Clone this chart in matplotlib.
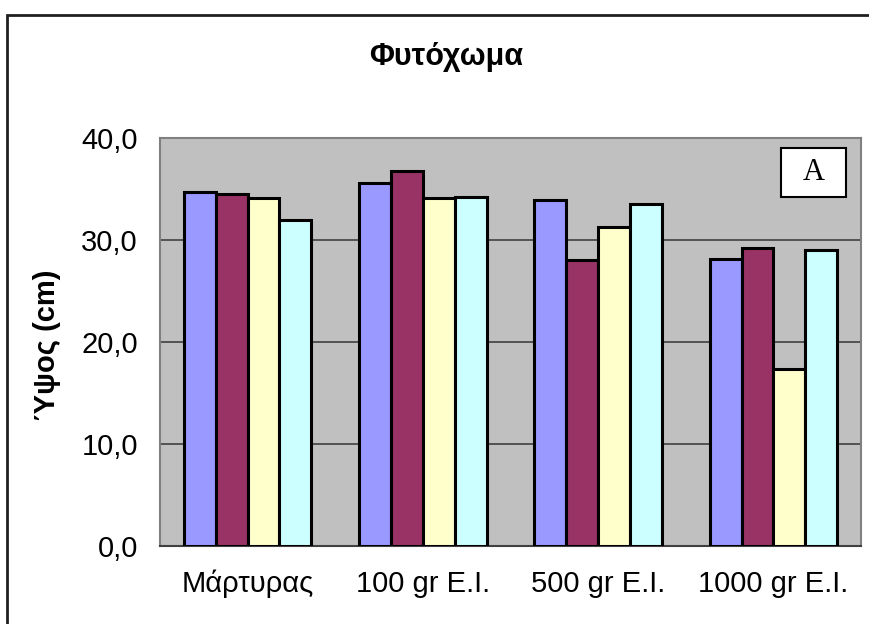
import matplotlib.pyplot as plt
import numpy as np
from matplotlib.patches import Rectangle

plt.rcParams['font.family'] = ['Liberation Sans', 'DejaVu Sans']

groups = ['Μάρτυρας', '100 gr E.I.', '500 gr E.I.', '1000 gr E.I.']
series_1 = [34.7, 35.6, 33.9, 28.1]
series_2 = [34.5, 36.8, 28.0, 29.2]
series_3 = [34.1, 34.1, 31.3, 17.4]
series_4 = [32.0, 34.2, 33.5, 29.0]
yticks = [0, 10, 20, 30, 40]
ytick_labels = ['0,0', '10,0', '20,0', '30,0', '40,0']

colors = ['#9999FF', '#993366', '#FFFFCC', '#CCFFFF']

fig = plt.figure(figsize=(8.7, 6.24), dpi=100)
W, H = 870, 624

# outer chart frame
fig.patches.append(Rectangle((7 / W, -0.1), 1.2, 1 - 15 / H + 0.1, transform=fig.transFigure,
                             fill=False, edgecolor='#202020', linewidth=2.0))

ax = fig.add_axes([160 / W, 1 - 546 / H, (861 - 160) / W, (546 - 138) / H])
ax.set_facecolor('#C0C0C0')

x = np.arange(len(groups))
width = 1 / 5.5
for i, vals in enumerate([series_1, series_2, series_3, series_4]):
    ax.bar(x + (i - 1.5) * width, vals, width, color=colors[i],
           edgecolor='black', linewidth=2.2, zorder=3)

ax.set_xlim(-0.5, len(groups) - 0.5)
ax.set_ylim(0, 40)
ax.set_yticks(yticks)
ax.set_yticklabels(ytick_labels)
ax.set_xticks(x)
ax.set_xticklabels(groups)
ax.yaxis.grid(True, color='#404040', linewidth=1.2, zorder=1)
ax.tick_params(axis='y', length=0, pad=16, labelsize=21)
ax.tick_params(axis='x', length=0, pad=17, labelsize=21)
for s in ax.spines.values():
    s.set_color('#808080')
    s.set_linewidth(1.5)
ax.spines['bottom'].set_color('#404040')

fig.text(47 / W, 1 - 345 / H, 'Ύψος (cm)', rotation=90, ha='center', va='center',
         fontsize=21, fontweight='bold')
fig.text(446 / W, 1 - 57 / H, 'Φυτόχωμα', ha='center', va='center',
         fontsize=22, fontweight='bold')

# panel letter box
ax.add_patch(Rectangle((781 / W, 1 - 197 / H), 65 / W, 49 / H, transform=fig.transFigure,
                       facecolor='white', edgecolor='black', linewidth=1.5, zorder=5))
ax.text(813.5 / W, 1 - 172.5 / H, 'A', transform=fig.transFigure, ha='center', va='center',
        fontsize=22, family=['Liberation Serif', 'DejaVu Serif'], zorder=6)

fig.savefig('out.png', dpi=100)
